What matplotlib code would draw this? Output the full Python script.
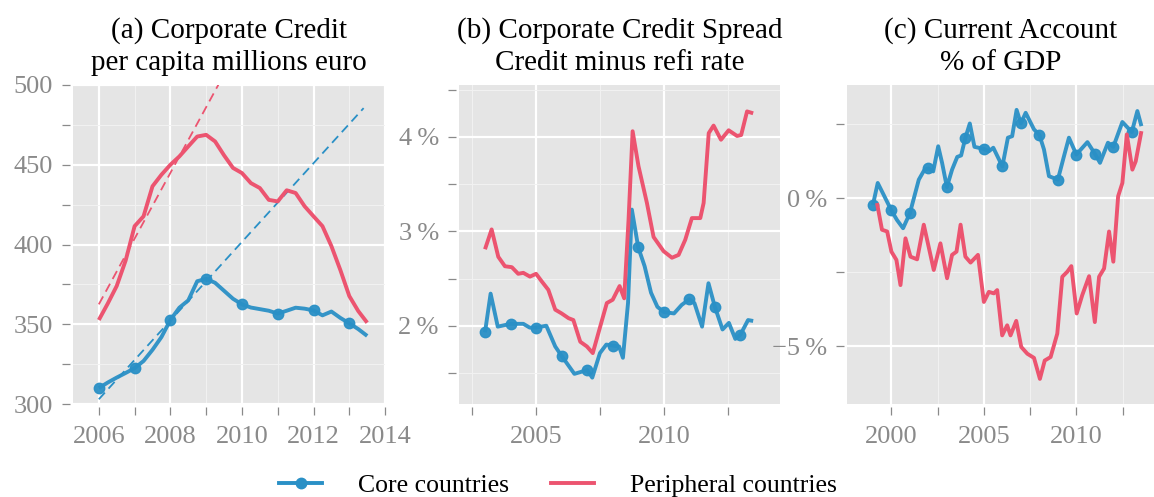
import numpy as np
import matplotlib
matplotlib.use("Agg")
import matplotlib.pyplot as plt
from matplotlib.lines import Line2D
from matplotlib.ticker import MultipleLocator, FuncFormatter

plt.rcParams['font.family'] = ['Liberation Serif', 'DejaVu Serif']

# ---------------- data ----------------
# (a) corporate credit per capita (quarterly, 2006.0 - 2013.5)
a_x = [2006.0 + 0.25 * i for i in range(31)]
a_core = [310, 313.5, 316.6, 319.5, 322.5, 327, 334, 342, 352.7, 360.4, 365, 377, 378.5,
          376, 371, 366, 362.5, 360.5, 359.5, 358.5, 356.7, 358.5, 360.4, 359.8, 358.7,
          355.6, 358, 354, 350.6, 347, 342.7]
a_peri = [352.7, 363, 374, 390, 411.5, 417.7, 436.5, 443.75, 450, 455.2, 461.5, 467.7, 468.75,
          464.6, 455.9, 448, 444.8, 438.5, 435.4, 428, 427, 434, 432.3, 424, 417.7,
          411.5, 399, 384, 367.7, 358.3, 351]
a_core_trend_x = [2006.0, 2013.4]
a_core_trend_y = [303.0, 485.5]
a_peri_trend_x = [2006.0, 2009.5]
a_peri_trend_y = [362.5, 506.7]

# (b) corporate credit spread, %
b_core_x = [2003.0, 2003.22, 2003.5, 2004.0, 2004.5, 2004.75, 2005.0, 2005.4, 2005.75, 2006.0,
            2006.5, 2007.0, 2007.2, 2007.5, 2007.75, 2008.0, 2008.25, 2008.4, 2008.6, 2008.75,
            2009.0, 2009.25, 2009.5, 2009.75, 2010.0, 2010.4, 2010.7, 2011.0, 2011.2, 2011.5,
            2011.75, 2012.0, 2012.3, 2012.55, 2012.8, 2013.0, 2013.3, 2013.5]
b_core = [1.93, 2.34, 1.99, 2.02, 2.02, 1.98, 1.98, 2.00, 1.78, 1.68,
          1.49, 1.53, 1.45, 1.71, 1.80, 1.79, 1.78, 1.66, 2.24, 3.23,
          2.83, 2.63, 2.35, 2.20, 2.145, 2.13, 2.22, 2.28, 2.24, 1.99,
          2.45, 2.20, 1.96, 2.03, 1.86, 1.905, 2.06, 2.05]
b_peri_x = [2003.0, 2003.26, 2003.52, 2003.78, 2004.05, 2004.3, 2004.5, 2004.76, 2005.0, 2005.22,
            2005.48, 2005.75, 2006.0, 2006.27, 2006.46, 2006.73, 2006.99, 2007.22, 2007.51, 2007.77,
            2008.0, 2008.27, 2008.45, 2008.62, 2008.78, 2009.01, 2009.34, 2009.6, 2009.99, 2010.32,
            2010.58, 2010.84, 2011.1, 2011.43, 2011.56, 2011.76, 2011.95, 2012.24, 2012.54, 2012.87,
            2013.03, 2013.26, 2013.5]
b_peri = [2.81, 3.02, 2.73, 2.63, 2.62, 2.55, 2.56, 2.52, 2.55, 2.47,
          2.38, 2.17, 2.13, 2.08, 2.06, 1.83, 1.78, 1.71, 1.99, 2.24,
          2.275, 2.42, 2.29, 3.12, 4.06, 3.69, 3.30, 2.94, 2.79, 2.72,
          2.75, 2.91, 3.14, 3.14, 3.30, 4.04, 4.12, 3.97, 4.07, 4.01,
          4.02, 4.27, 4.25]

# (c) current account, % of GDP
c_core_x = [1999.0, 1999.26, 1999.58, 2000.0, 2000.3, 2000.63, 2001.0, 2001.48, 2001.79, 2002.0,
            2002.26, 2002.53, 2002.74, 2003.0, 2003.28, 2003.56, 2003.77, 2004.0, 2004.24, 2004.49,
            2005.0, 2005.27, 2005.51, 2006.0, 2006.3, 2006.53, 2006.77, 2007.0, 2007.26, 2007.71,
            2008.0, 2008.25, 2008.52, 2009.0, 2009.33, 2009.6, 2010.0, 2010.6, 2011.0, 2011.28,
            2011.71, 2012.0, 2012.49, 2013.0, 2013.3, 2013.52]
c_core = [-0.23, 0.51, 0.11, -0.42, -0.74, -1.02, -0.51, 0.62, 0.96, 1.0,
          0.90, 1.75, 1.19, 0.37, 0.96, 1.39, 1.44, 2.04, 2.52, 1.73,
          1.66, 1.58, 1.70, 1.07, 2.04, 2.09, 2.98, 2.52, 2.88, 2.32,
          2.14, 1.64, 0.74, 0.62, 1.41, 2.04, 1.47, 1.89, 1.50, 1.19,
          1.87, 1.73, 2.57, 2.23, 2.94, 2.43]
c_peri_x = [1999.22, 1999.49, 1999.77, 2000.0, 2000.27, 2000.49, 2000.76, 2001.03, 2001.39, 2001.75,
            2002.29, 2002.65, 2003.01, 2003.28, 2003.52, 2003.74, 2004.0, 2004.28, 2004.68, 2005.0,
            2005.27, 2005.54, 2005.72, 2005.99, 2006.26, 2006.44, 2006.75, 2007.02, 2007.35, 2007.71,
            2008.03, 2008.29, 2008.61, 2008.97, 2009.24, 2009.51, 2009.73, 2010.02, 2010.32, 2010.69,
            2011.0, 2011.23, 2011.5, 2011.77, 2012.0, 2012.26, 2012.49, 2012.73, 2013.03, 2013.21,
            2013.52]
c_peri = [-0.17, -1.07, -1.13, -1.81, -2.09, -2.94, -1.36, -1.98, -2.07, -0.90,
          -2.43, -1.53, -2.71, -1.92, -1.81, -0.90, -1.98, -2.18, -1.92, -3.51,
          -3.17, -3.22, -3.11, -4.64, -4.30, -4.64, -4.15, -5.03, -5.26, -5.40,
          -6.11, -5.49, -5.37, -4.58, -2.66, -2.49, -2.30, -3.90, -3.28, -2.64,
          -4.19, -2.66, -2.38, -1.13, -2.15, 0.06, 0.51, 2.15, 0.96, 1.24,
          2.26]

titles = ["(a) Corporate Credit\nper capita millions euro",
          "(b) Corporate Credit Spread\nCredit minus refi rate",
          "(c) Current Account\n% of GDP"]
legend_labels = ["Core countries", "Peripheral countries"]

BLUE = "#2a90c6"
RED = "#ec5470"
BG = "#e5e5e5"
GRAY = "#8a8a8a"

fig = plt.figure(figsize=(11.54, 4.97), dpi=100)
h = 0.642
b0 = 0.187
ax_a = fig.add_axes([0.0633, b0, 0.2704, h])
ax_b = fig.add_axes([0.3977, b0, 0.2782, h])
ax_c = fig.add_axes([0.734, b0, 0.266, h])


def style(ax):
    ax.set_facecolor(BG)
    for s in ax.spines.values():
        s.set_visible(False)
    ax.spines['left'].set_position(('outward', 2))
    ax.spines['bottom'].set_position(('outward', 2))
    ax.grid(which='major', color='white', lw=1.6, zorder=0)
    ax.grid(which='minor', color='#f2f2f2', lw=0.7, zorder=0)
    ax.set_axisbelow(True)
    ax.tick_params(which='both', direction='out', length=5.5, width=0.9, color=GRAY,
                   labelcolor=GRAY, labelsize=19)
    ax.tick_params(axis='x', which='both', pad=8)
    ax.tick_params(axis='y', which='both', pad=7)


def yearly_idx(xs):
    return [i for i, v in enumerate(xs) if abs(v - round(v)) < 1e-6]


lw = 2.8
ms = 7.5

# (a)
style(ax_a)
ax_a.plot(a_x, a_core, color=BLUE, lw=lw, marker='o', ms=ms, markevery=yearly_idx(a_x),
          alpha=0.95, zorder=3, solid_capstyle='butt')
ax_a.plot(a_x, a_peri, color=RED, lw=lw, zorder=3, solid_capstyle='butt')
ax_a.plot(a_core_trend_x, a_core_trend_y, color=BLUE, lw=1.3, ls=(0, (5, 3)), zorder=2)
ax_a.plot(a_peri_trend_x, a_peri_trend_y, color=RED, lw=1.3, ls=(0, (5, 3)), zorder=2)
ax_a.set_xlim(2005.28, 2014.0)
ax_a.set_ylim(300, 500)
ax_a.xaxis.set_major_locator(MultipleLocator(2))
ax_a.xaxis.set_minor_locator(MultipleLocator(1))
ax_a.yaxis.set_major_locator(MultipleLocator(50))
ax_a.yaxis.set_minor_locator(MultipleLocator(25))

pct = FuncFormatter(lambda v, p: ("\u2212" if v < 0 else "") + f"{abs(v):g}\u2009%")

# (b)
style(ax_b)
ax_b.plot(b_core_x, b_core, color=BLUE, lw=lw, marker='o', ms=ms, markevery=yearly_idx(b_core_x),
          alpha=0.95, zorder=3, solid_capstyle='butt')
ax_b.plot(b_peri_x, b_peri, color=RED, lw=lw, zorder=3, solid_capstyle='butt')
ax_b.set_xlim(2001.98, 2014.55)
ax_b.set_ylim(1.17, 4.55)
ax_b.xaxis.set_major_locator(MultipleLocator(5))
ax_b.xaxis.set_minor_locator(MultipleLocator(2.5))
ax_b.yaxis.set_major_locator(MultipleLocator(1))
ax_b.yaxis.set_minor_locator(MultipleLocator(0.5))
ax_b.yaxis.set_major_formatter(pct)

# (c)
style(ax_c)
ax_c.plot(c_core_x, c_core, color=BLUE, lw=lw, marker='o', ms=ms, markevery=yearly_idx(c_core_x),
          alpha=0.95, zorder=3, solid_capstyle='butt')
ax_c.plot(c_peri_x, c_peri, color=RED, lw=lw, zorder=3, solid_capstyle='butt')
ax_c.set_xlim(1997.6, 2014.2)
ax_c.set_ylim(-6.96, 3.82)
ax_c.xaxis.set_major_locator(MultipleLocator(5))
ax_c.xaxis.set_minor_locator(MultipleLocator(2.5))
ax_c.yaxis.set_major_locator(MultipleLocator(5))
ax_c.yaxis.set_minor_locator(MultipleLocator(2.5))
ax_c.yaxis.set_major_formatter(pct)

for ax, t in zip([ax_a, ax_b, ax_c], titles):
    ax.set_title(t, fontsize=21, color='black', pad=11, linespacing=1.28)

handles = [Line2D([], [], color=BLUE, lw=lw, marker='o', ms=ms),
           Line2D([], [], color=RED, lw=lw)]
fig.legend(handles, legend_labels, loc='center', bbox_to_anchor=(0.4835, 0.023), ncol=2,
           frameon=False, fontsize=18.5, handlelength=1.7, columnspacing=1.6, handletextpad=1.4)

fig.savefig("out.png", dpi=100)
